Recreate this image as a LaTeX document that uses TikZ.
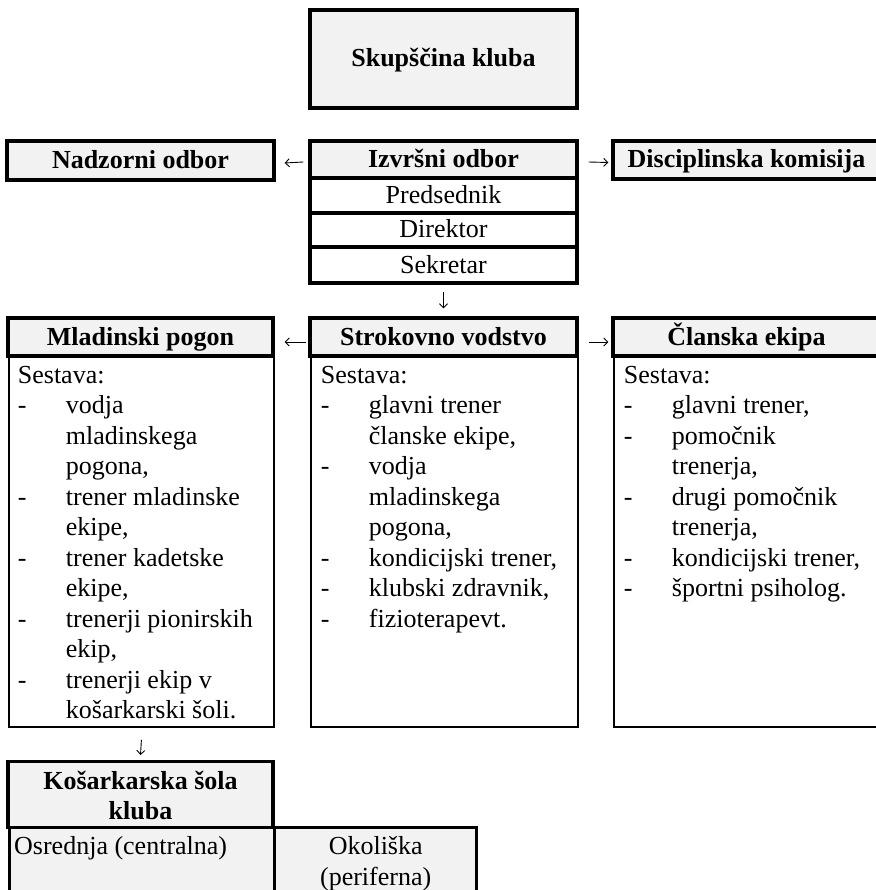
\documentclass[tikz,border=0pt]{standalone}
\usepackage{fontspec}
\setmainfont{Liberation Serif}
\usetikzlibrary{arrows.meta}

\definecolor{boxgray}{HTML}{F2F2F2}
\newcommand{\txtsize}{\fontsize{26}{30.5}\selectfont}
\newcommand{\itm}{\makebox[48pt][l]{-}}
\newcommand{\cnt}{\hspace*{48pt}}
\newcommand{\sestava}[1]{\parbox[t][352pt][t]{247pt}{\raggedright Sestava:\\#1}}

\tikzset{
	every node/.style={font=\txtsize, inner sep=0pt},
	oneline/.style={text height=20pt, text depth=4pt},
	hdrbox/.style={draw, line width=3.4pt, fill=boxgray, font=\txtsize\bfseries},
	cellbox/.style={draw, line width=3.4pt, fill=white},
	hdr/.style={hdrbox, oneline},
	cell/.style={cellbox, oneline},
	body/.style={draw, line width=1.8pt, fill=white, anchor=north west, inner xsep=9pt, inner ysep=9pt},
	arr/.style={line width=0.9pt, -{Straight Barb[length=4pt,width=8pt]}}
}

\begin{document}
\begin{tikzpicture}[x=1pt, y=-1pt]
	\useasboundingbox (0,0) rectangle (875,890);

	\node[hdr, minimum width=267pt, minimum height=98pt] (skup) at (443.5,59) {Skupščina kluba};

	\node[hdr, minimum width=267pt, minimum height=39pt] (nad) at (140.5,160.5) {Nadzorni odbor};
	\node[hdr, minimum width=267pt, minimum height=37pt] (izv) at (443.5,159.5) {Izvršni odbor};
	\node[cell, minimum width=267pt, minimum height=35pt] (pred) at (443.5,195.5) {Predsednik};
	\node[cell, minimum width=267pt, minimum height=34pt] (dir) at (443.5,230) {Direktor};
	\node[cell, minimum width=267pt, minimum height=36pt] (sek) at (443.5,265) {Sekretar};
	\node[hdr, minimum width=267pt, minimum height=38pt] (disc) at (746.5,160) {Disciplinska komisija};

	\node[body, minimum width=265pt] (mladbody) at (8,356) {\sestava{%
		\itm vodja\\ \cnt mladinskega\\ \cnt pogona,\\
		\itm trener mladinske\\ \cnt ekipe,\\
		\itm trener kadetske\\ \cnt ekipe,\\
		\itm trenerji pionirskih\\ \cnt ekip,\\
		\itm trenerji ekip v\\ \cnt košarkarski šoli.}};
	\node[body, minimum width=267pt] (strokbody) at (310,356) {\sestava{%
		\itm glavni trener\\ \cnt članske ekipe,\\
		\itm vodja\\ \cnt mladinskega\\ \cnt pogona,\\
		\itm kondicijski trener,\\
		\itm klubski zdravnik,\\
		\itm fizioterapevt.}};
	\node[body, minimum width=267pt] (clanbody) at (613,356) {\sestava{%
		\itm glavni trener,\\
		\itm pomočnik\\ \cnt trenerja,\\
		\itm drugi pomočnik\\ \cnt trenerja,\\
		\itm kondicijski trener,\\
		\itm športni psiholog.}};

	\node[hdr, minimum width=265pt, minimum height=38pt] (mlad) at (140.5,337) {Mladinski pogon};
	\node[hdr, minimum width=267pt, minimum height=38pt] (strok) at (443.5,337) {Strokovno vodstvo};
	\node[hdr, minimum width=267pt, minimum height=38pt] (clan) at (746.5,337) {Članska ekipa};

	\node[hdrbox, anchor=north, minimum width=265pt, minimum height=66pt, inner ysep=9pt] (kos) at (140.5,760)
		{\parbox[t][48pt][t]{255pt}{\centering Košarkarska šola\\kluba}};
	\node[cellbox, fill=boxgray, anchor=north west, minimum width=265pt, minimum height=80pt,
		inner xsep=0pt, inner ysep=5pt] (osr) at (8,826) {\parbox[t][62pt][t]{262pt}{\hspace*{3pt}Osrednja (centralna)}};
	\node[cellbox, fill=boxgray, anchor=north west, minimum width=202pt, minimum height=80pt,
		inner ysep=8pt] (okol) at (273,826) {\parbox[t][62pt][t]{190pt}{\centering Okoliška\\(periferna)}};

	\begin{scope}[arr]
		\draw ([xshift=-5pt,yshift=-2.5pt]izv.west) -- ([xshift=9pt,yshift=-2.5pt]nad.east);
		\draw ([xshift=10pt,yshift=-2.5pt]izv.east) -- ([xshift=-3pt,yshift=-2.5pt]disc.west);
		\draw ([yshift=-7pt]sek.south) -- ([yshift=8pt]strok.north);
		\draw ([xshift=-2pt,yshift=-5pt]strok.west) -- ([xshift=10pt,yshift=-5pt]mlad.east);
		\draw ([xshift=10pt,yshift=-5pt]strok.east) -- ([xshift=-3pt,yshift=-5pt]clan.west);
		\draw ([yshift=-12pt]mladbody.south) -- ([yshift=5pt]kos.north);
	\end{scope}
\end{tikzpicture}
\end{document}
